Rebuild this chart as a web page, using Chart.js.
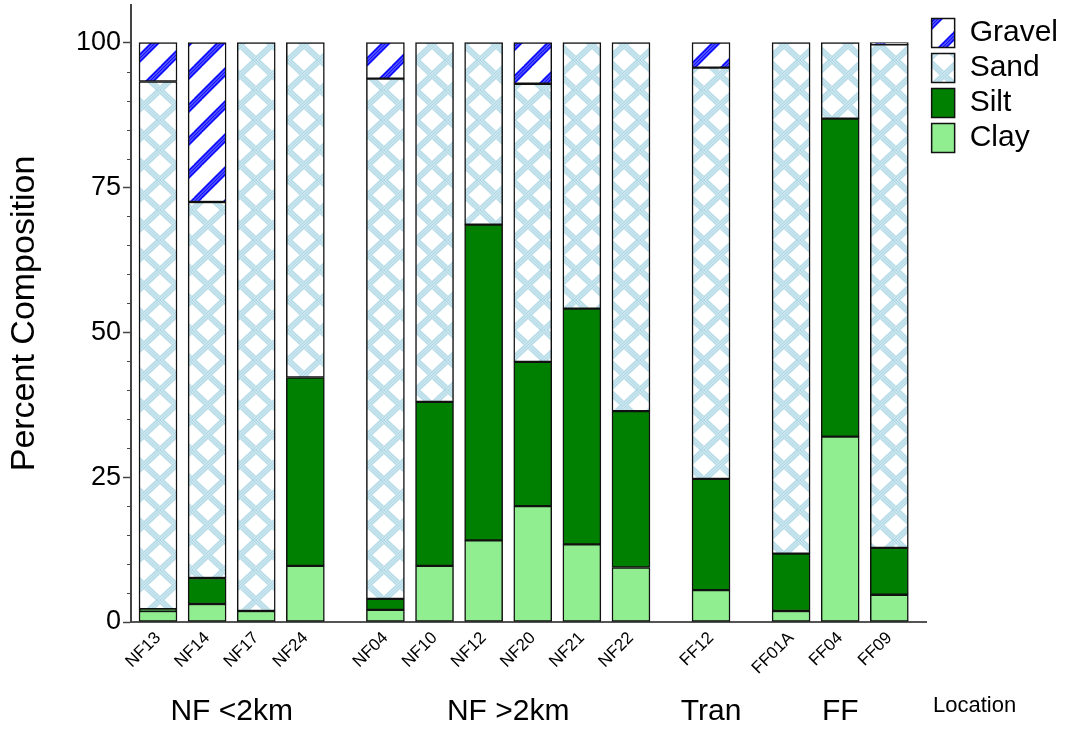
<!DOCTYPE html>
<html><head><meta charset="utf-8">
<script src="https://cdn.jsdelivr.net/npm/chart.js@4.4.1/dist/chart.umd.min.js"></script>
<style>html,body{margin:0;padding:0;background:#fff;}canvas{display:block;}</style>
</head><body>
<canvas id="c" width="1068" height="729"></canvas>
<script>
// ---- data ----
const locations = ['NF13','NF14','NF17','NF24','NF04','NF10','NF12','NF20','NF21','NF22','FF12','FF01A','FF04','FF09'];
const groupOf = [0,0,0,0,1,1,1,1,1,1,2,3,3,3];
const groupNames = ['NF <2km','NF >2km','Tran','FF'];
const clay   = [1.9, 3.1, 1.9, 9.7, 2.1, 9.7, 14.1, 20.0, 13.4, 9.4, 5.5, 1.9, 32.0, 4.7];
const silt   = [0.3, 4.5, null, 32.5, 1.9, 28.3, 54.5, 24.9, 40.7, 27.0, 19.2, 9.9, 54.9, 8.1];
const sand   = [91.1, 64.9, 98.1, 57.8, 89.8, 62.0, 31.4, 48.0, 45.9, 63.6, 71.0, 88.2, 13.1, 86.9];
const gravel = [6.7, 27.5, null, null, 6.2, null, null, 7.1, null, null, 4.3, null, null, 0.3];
const yTickLabels = [0, 25, 50, 75, 100];
const xTitle = 'Location';
const yTitle = 'Percent Composition';

// ---- layout helpers ----
const GROUP_GAP = 0.63;
const xs = locations.map((_, i) => i + groupOf[i] * GROUP_GAP);
const FONT = '"Liberation Sans", Arial, Helvetica, sans-serif';
Chart.defaults.font.family = FONT;
Chart.defaults.color = '#000';

const canvas = document.getElementById('c');
const c2d = canvas.getContext('2d');

function makePattern(w, h, draw) {
  const t = document.createElement('canvas');
  t.width = w; t.height = h;
  const g = t.getContext('2d');
  g.fillStyle = '#fff'; g.fillRect(0, 0, w, h);
  draw(g, w, h);
  return c2d.createPattern(t, 'repeat');
}
function bundle(g, x1, y1, x2, y2, wide, wideCol, thinCol, offs) {
  g.strokeStyle = wideCol; g.lineWidth = wide;
  g.beginPath(); g.moveTo(x1, y1); g.lineTo(x2, y2); g.stroke();
  g.strokeStyle = thinCol; g.lineWidth = 1;
  offs.forEach(o => { g.beginPath(); g.moveTo(x1 + o, y1); g.lineTo(x2 + o, y2); g.stroke(); });
}
const sandPattern = makePattern(32, 30, (g, w, h) => {
  for (let k = -1; k <= 1; k++) {
    bundle(g, k * w, 0, k * w + w, h, 6.5, '#cfe8f0', '#a9d5e4', [-3, 0, 3]);
    bundle(g, k * w, h, k * w + w, 0, 6.5, '#cfe8f0', '#a9d5e4', [-3, 0, 3]);
  }
});
const gravelPattern = makePattern(33, 33, (g, w, h) => {
  for (let k = -1; k <= 1; k++) {
    bundle(g, k * w - 2, h + 2, k * w + w + 2, -2, 7, '#1010ff', '#8c8cff', [-1.5, 1.5]);
  }
});

const toPts = arr => arr.map((v, i) => ({ x: xs[i], y: v }));
const barCommon = { borderColor: '#111', borderWidth: 1.5, borderSkipped: false, barThickness: 38 };

const minorTicks = [];
for (let v = 5; v < 100; v += 5) if (!yTickLabels.includes(v)) minorTicks.push(v);
const allYTicks = [];
for (let v = 0; v <= 100; v += 5) allYTicks.push(v);

const extras = {
  id: 'extras',
  afterDraw(chart) {
    const ctx = chart.ctx, xsScale = chart.scales.x, ys = chart.scales.y;
    ctx.save();
    // minor ticks
    ctx.strokeStyle = '#444'; ctx.lineWidth = 1;
    minorTicks.forEach(v => {
      const py = Math.round(ys.getPixelForValue(v)) + 0.5;
      ctx.beginPath(); ctx.moveTo(ys.right - 4, py); ctx.lineTo(ys.right, py); ctx.stroke();
    });
    // group labels
    ctx.fillStyle = '#000'; ctx.textAlign = 'center'; ctx.textBaseline = 'middle';
    ctx.font = '30px ' + FONT;
    groupNames.forEach((name, gi) => {
      const members = xs.filter((_, i) => groupOf[i] === gi);
      const mid = (Math.min(...members) + Math.max(...members)) / 2;
      ctx.fillText(name, xsScale.getPixelForValue(mid), 712);
    });
    ctx.font = '22px ' + FONT;
    ctx.fillText(xTitle, chart.chartArea.right + 48, 706);
    ctx.restore();
  }
};

new Chart(canvas, {
  type: 'bar',
  data: {
    datasets: [
      { label: 'Clay', data: toPts(clay), backgroundColor: '#90EE90', ...barCommon },
      { label: 'Silt', data: toPts(silt), backgroundColor: '#008000', ...barCommon },
      { label: 'Sand', data: toPts(sand), backgroundColor: sandPattern, ...barCommon },
      { label: 'Gravel', data: toPts(gravel), backgroundColor: gravelPattern, ...barCommon }
    ]
  },
  options: {
    responsive: false,
    devicePixelRatio: 1,
    animation: false,
    layout: { padding: { top: 5, left: 0, right: 0, bottom: 0 } },
    plugins: {
      legend: {
        position: 'right',
        align: 'start',
        reverse: true,
        title: { display: true, text: ' ', padding: 0, font: { size: 8, lineHeight: 1 } },
        labels: { boxWidth: 23, boxHeight: 29, padding: 5, font: { size: 30 }, color: '#000' }
      },
      tooltip: { enabled: false }
    },
    scales: {
      x: {
        type: 'linear',
        stacked: true,
        min: -0.55,
        max: xs[xs.length - 1] + 0.76,
        offset: false,
        grid: { display: false, drawTicks: false },
        border: { display: true, color: '#555', width: 2 },
        afterBuildTicks: axis => { axis.ticks = xs.map(v => ({ value: v })); },
        afterFit: axis => { axis.height = 107; axis.paddingLeft = 0; axis.paddingRight = 0; },
        ticks: {
          autoSkip: false, minRotation: 45, maxRotation: 45, padding: 6,
          font: { size: 17 }, color: '#000',
          callback: (v, i) => locations[i]
        }
      },
      y: {
        type: 'linear',
        stacked: true,
        min: 0,
        max: 106.5,
        grid: {
          display: true, drawOnChartArea: false, drawTicks: true, tickLength: 8,
          tickColor: ctx => (ctx.tick && yTickLabels.includes(ctx.tick.value)) ? '#444' : 'rgba(0,0,0,0)',
          tickWidth: 1.5
        },
        border: { display: true, color: '#444', width: 2 },
        afterBuildTicks: axis => { axis.ticks = allYTicks.map(v => ({ value: v })); },
        afterFit: axis => { axis.width = 131; axis.paddingTop = 0; axis.paddingBottom = 0; },
        ticks: {
          autoSkip: false, padding: 2, font: { size: 27 }, color: '#000',
          callback: v => yTickLabels.includes(v) ? String(v) : ''
        },
        title: { display: true, text: yTitle, font: { size: 34 }, color: '#000', padding: { top: 4, bottom: 0 } }
      }
    }
  },
  plugins: [extras]
});
</script>
</body></html>
